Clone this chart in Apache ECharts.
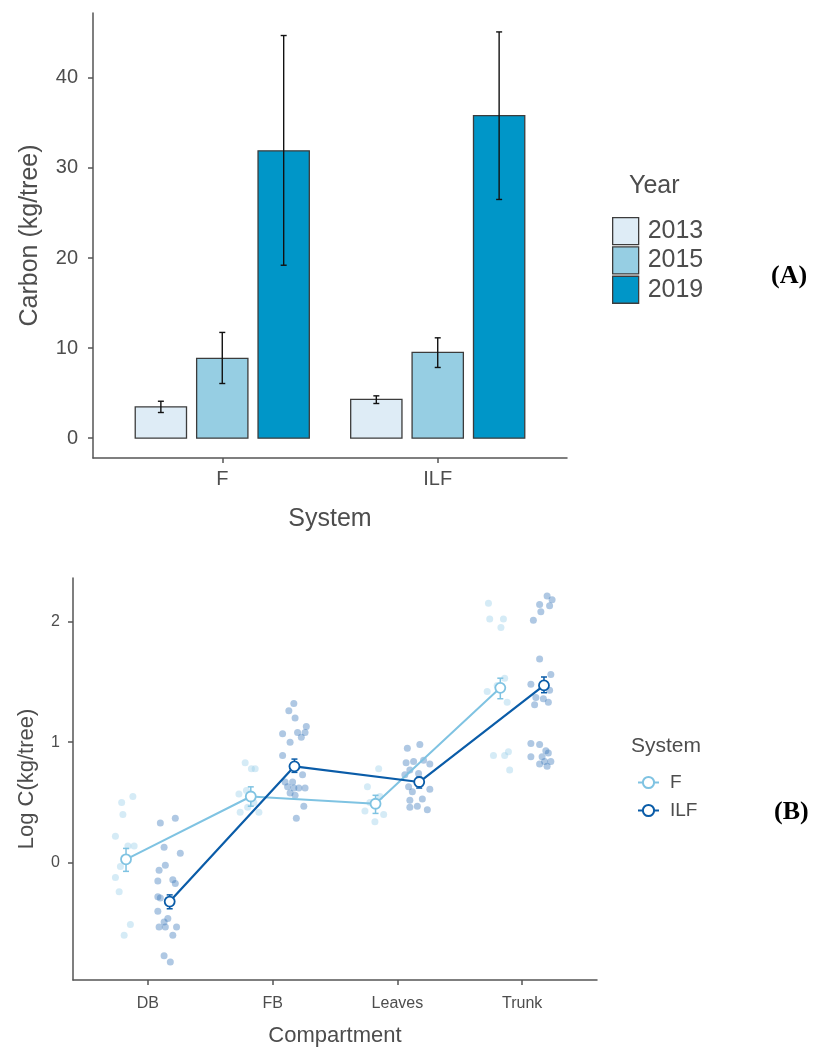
<!DOCTYPE html>
<html>
<head>
<meta charset="utf-8">
<script src="https://cdn.jsdelivr.net/npm/echarts@6/dist/echarts.min.js"></script>
<style>
html,body{margin:0;padding:0;background:#fff;}
#chart{width:814px;height:1048px;}
</style>
</head>
<body>
<div id="chart"></div>
<script>
// ---------- Panel A data ----------
const systemsA = ['F', 'ILF'];
const yearsA = ['2013', '2015', '2019'];
const mean2013 = [3.48, 4.30];
const lo2013 = [2.85, 3.85];
const hi2013 = [4.10, 4.70];
const mean2015 = [8.85, 9.52];
const lo2015 = [6.07, 7.85];
const hi2015 = [11.74, 11.14];
const mean2019 = [31.9, 35.8];
const lo2019 = [19.2, 26.5];
const hi2019 = [44.7, 45.1];
const ticksA = [0, 10, 20, 30, 40];

// ---------- Panel B data ----------
const compartments = ['DB', 'FB', 'Leaves', 'Trunk'];
const systemsB = ['F', 'ILF'];
const meanF = [0.03, 0.55, 0.49, 1.45];
const loF = [-0.07, 0.47, 0.41, 1.36];
const hiF = [0.12, 0.63, 0.56, 1.53];
const meanILF = [-0.32, 0.80, 0.67, 1.47];
const loILF = [-0.38, 0.75, 0.62, 1.41];
const hiILF = [-0.265, 0.86, 0.71, 1.54];
const ticksB = [0, 1, 2];
// jittered raw observations [position, log C]
const ptsF_DB = [[0.79,0.50],[0.88,0.55],[0.80,0.40],[0.74,0.22],[0.84,0.14],[0.89,0.14],[0.78,-0.03],[0.74,-0.12],[0.77,-0.24],[0.86,-0.51],[0.81,-0.60]];
const ptsF_FB = [[1.78,0.83],[1.83,0.78],[1.86,0.78],[1.73,0.57],[1.74,0.42],[1.80,0.46],[1.89,0.42],[1.85,0.50],[1.79,0.60]];
const ptsF_Leaves = [[2.85,0.78],[2.76,0.63],[2.74,0.43],[2.82,0.34],[2.89,0.40],[2.78,0.50],[2.86,0.55]];
const ptsF_Trunk = [[3.73,2.15],[3.74,2.02],[3.85,2.02],[3.83,1.95],[3.86,1.53],[3.72,1.42],[3.88,1.33],[3.80,1.47],[3.77,0.89],[3.86,0.89],[3.89,0.92],[3.90,0.77]];
const ptsILF_DB = [[1.10,0.33],[1.22,0.37],[1.13,0.13],[1.26,0.08],[1.14,-0.02],[1.09,-0.06],[1.08,-0.15],[1.20,-0.14],[1.22,-0.17],[1.08,-0.28],[1.10,-0.29],[1.08,-0.40],[1.16,-0.46],[1.13,-0.49],[1.09,-0.53],[1.14,-0.53],[1.23,-0.53],[1.20,-0.60],[1.13,-0.77],[1.18,-0.82]];
const ptsILF_FB = [[2.17,1.32],[2.13,1.26],[2.18,1.20],[2.27,1.13],[2.20,1.08],[2.26,1.08],[2.23,1.04],[2.08,1.07],[2.14,1.00],[2.08,0.89],[2.24,0.73],[2.10,0.67],[2.16,0.67],[2.12,0.63],[2.17,0.62],[2.21,0.62],[2.26,0.62],[2.14,0.58],[2.18,0.56],[2.25,0.47],[2.19,0.37]];
const ptsILF_Leaves = [[3.08,0.95],[3.18,0.98],[3.07,0.83],[3.13,0.84],[3.21,0.85],[3.26,0.82],[3.10,0.77],[3.06,0.73],[3.17,0.74],[3.09,0.63],[3.12,0.59],[3.26,0.61],[3.10,0.52],[3.20,0.53],[3.10,0.46],[3.16,0.47],[3.24,0.44]];
const ptsILF_Trunk = [[4.20,2.21],[4.24,2.18],[4.14,2.14],[4.22,2.13],[4.15,2.08],[4.09,2.01],[4.14,1.69],[4.23,1.56],[4.07,1.48],[4.22,1.43],[4.11,1.37],[4.17,1.36],[4.21,1.33],[4.10,1.31],[4.07,0.99],[4.14,0.98],[4.19,0.93],[4.21,0.91],[4.07,0.88],[4.16,0.88],[4.14,0.82],[4.18,0.84],[4.23,0.84],[4.20,0.80]];

// ---------- styling ----------
const barColors = ['#deecf6', '#96cee3', '#0096c8'];
const barOffsets = [-0.285, 0, 0.285];
const barW = 0.238;
const lineColors = ['#7fc3e2', '#0a5ca8'];
const ptColors = ['rgba(150,205,233,0.5)', 'rgba(55,118,185,0.5)'];
const dodgeB = [-0.175, 0.175];
const axisCol = '#555555';
const txtCol = '#4d4d4d';
const font = 'Liberation Sans, Arial, sans-serif';

const chart = echarts.init(document.getElementById('chart'), null, {renderer: 'canvas'});

const meansA = [mean2013, mean2015, mean2019];
const losA = [lo2013, lo2015, lo2019];
const hisA = [hi2013, hi2015, hi2019];

const series = [];
yearsA.forEach((yr, k) => {
  series.push({
    name: yr, type: 'custom', xAxisIndex: 0, yAxisIndex: 0,
    itemStyle: {color: barColors[k], borderColor: '#3c3c3c', borderWidth: 1.3},
    data: systemsA.map((s, i) => [i + 1, meansA[k][i]]),
    renderItem: (params, api) => {
      const x = api.value(0) + barOffsets[k];
      const p0 = api.coord([x - barW / 2, api.value(1)]);
      const p1 = api.coord([x + barW / 2, 0]);
      return {type: 'rect', shape: {x: p0[0], y: p0[1], width: p1[0] - p0[0], height: p1[1] - p0[1]},
        style: {fill: barColors[k], stroke: '#3c3c3c', lineWidth: 1.3}};
    }
  });
});
yearsA.forEach((yr, k) => {
  series.push({
    name: 'err' + yr, type: 'custom', xAxisIndex: 0, yAxisIndex: 0, z: 5,
    data: systemsA.map((s, i) => [i + 1, losA[k][i], hisA[k][i]]),
    renderItem: (params, api) => {
      const x = api.value(0) + barOffsets[k];
      const a = api.coord([x, api.value(1)]);
      const b = api.coord([x, api.value(2)]);
      const cw = 3;
      const st = {stroke: '#111', lineWidth: 1.4};
      return {type: 'group', children: [
        {type: 'line', shape: {x1: a[0], y1: a[1], x2: b[0], y2: b[1]}, style: st},
        {type: 'line', shape: {x1: a[0] - cw, y1: a[1], x2: a[0] + cw, y2: a[1]}, style: st},
        {type: 'line', shape: {x1: b[0] - cw, y1: b[1], x2: b[0] + cw, y2: b[1]}, style: st}
      ]};
    }
  });
});

// Panel B
const ptsF = [].concat(ptsF_DB, ptsF_FB, ptsF_Leaves, ptsF_Trunk);
const ptsILF = [].concat(ptsILF_DB, ptsILF_FB, ptsILF_Leaves, ptsILF_Trunk);
[ptsF, ptsILF].forEach((pts, j) => {
  series.push({
    name: 'pts' + systemsB[j], type: 'scatter', xAxisIndex: 1, yAxisIndex: 1,
    symbolSize: 7, itemStyle: {color: ptColors[j]}, data: pts, z: 2
  });
});
const meansB = [meanF, meanILF], losB = [loF, loILF], hisB = [hiF, hiILF];
systemsB.forEach((s, j) => {
  series.push({
    name: 'eb' + s, type: 'custom', xAxisIndex: 1, yAxisIndex: 1, z: 3,
    data: compartments.map((c, i) => [i + 1, losB[j][i], hisB[j][i]]),
    renderItem: (params, api) => {
      const x = api.value(0) + dodgeB[j];
      const a = api.coord([x, api.value(1)]);
      const b = api.coord([x, api.value(2)]);
      const cw = 3;
      const st = {stroke: lineColors[j], lineWidth: 1.5};
      return {type: 'group', children: [
        {type: 'line', shape: {x1: a[0], y1: a[1], x2: b[0], y2: b[1]}, style: st},
        {type: 'line', shape: {x1: a[0] - cw, y1: a[1], x2: a[0] + cw, y2: a[1]}, style: st},
        {type: 'line', shape: {x1: b[0] - cw, y1: b[1], x2: b[0] + cw, y2: b[1]}, style: st}
      ]};
    }
  });
});
systemsB.forEach((s, j) => {
  series.push({
    name: s, type: 'line', xAxisIndex: 1, yAxisIndex: 1, z: 4,
    data: compartments.map((c, i) => [i + 1 + dodgeB[j], meansB[j][i]]),
    symbol: 'circle', symbolSize: 10,
    lineStyle: {color: lineColors[j], width: j === 0 ? 2 : 2.2},
    itemStyle: {color: '#ffffff', borderColor: lineColors[j], borderWidth: 1.8},
    emphasis: {disabled: true}
  });
});

const option = {
  animation: false,
  backgroundColor: '#ffffff',
  textStyle: {fontFamily: font},
  grid: [
    {left: 93, top: 13, width: 474, height: 445},
    {left: 73, top: 578, width: 524, height: 402}
  ],
  xAxis: [
    {gridIndex: 0, type: 'value', min: 0.4, max: 2.6,
      name: 'System', nameLocation: 'middle', nameGap: 49,
      nameTextStyle: {fontSize: 25, color: txtCol, fontFamily: font},
      axisLine: {show: true, onZero: false, lineStyle: {color: axisCol, width: 1.5}},
      axisTick: {show: true, length: 5, customValues: [1, 2], lineStyle: {color: axisCol, width: 1.5}},
      axisLabel: {customValues: [1, 2], formatter: v => systemsA[Math.round(v) - 1], fontSize: 20, color: txtCol, margin: 11},
      splitLine: {show: false}},
    {gridIndex: 1, type: 'value', min: 0.4, max: 4.6,
      name: 'Compartment', nameLocation: 'middle', nameGap: 45,
      nameTextStyle: {fontSize: 22, color: txtCol, fontFamily: font},
      axisLine: {show: true, onZero: false, lineStyle: {color: axisCol, width: 1.5}},
      axisTick: {show: true, length: 5, customValues: [1, 2, 3, 4], lineStyle: {color: axisCol, width: 1.5}},
      axisLabel: {customValues: [1, 2, 3, 4], formatter: v => compartments[Math.round(v) - 1], fontSize: 16, color: txtCol, margin: 16},
      splitLine: {show: false}}
  ],
  yAxis: [
    {gridIndex: 0, type: 'value', min: -2.2, max: 47.2,
      name: 'Carbon (kg/tree)', nameLocation: 'middle', nameGap: 50,
      nameTextStyle: {fontSize: 25, color: txtCol, fontFamily: font},
      axisLine: {show: true, onZero: false, lineStyle: {color: axisCol, width: 1.5}},
      axisTick: {show: true, length: 5, customValues: ticksA, lineStyle: {color: axisCol, width: 1.5}},
      axisLabel: {customValues: ticksA, fontSize: 20, color: txtCol, margin: 15},
      splitLine: {show: false}},
    {gridIndex: 1, type: 'value', min: -0.97, max: 2.36,
      name: 'Log C(kg/tree)', nameLocation: 'middle', nameGap: 35,
      nameTextStyle: {fontSize: 22, color: txtCol, fontFamily: font},
      axisLine: {show: true, onZero: false, lineStyle: {color: axisCol, width: 1.5}},
      axisTick: {show: true, length: 5, customValues: ticksB, lineStyle: {color: axisCol, width: 1.5}},
      axisLabel: {customValues: ticksB, fontSize: 16, color: txtCol, margin: 13},
      splitLine: {show: false}}
  ],
  legend: [
    {orient: 'vertical', left: 607, top: 212, itemWidth: 26, itemHeight: 27, itemGap: 1,
      icon: 'rect', selectedMode: false,
      textStyle: {fontSize: 25, color: txtCol, fontFamily: font, padding: [0, 0, 0, 4]},
      data: yearsA.map((y, k) => ({name: y, itemStyle: {color: barColors[k], borderColor: '#3c3c3c', borderWidth: 1.3}}))},
    {orient: 'vertical', left: 632, top: 768, itemWidth: 21, itemHeight: 14, itemGap: 9,
      selectedMode: false,
      textStyle: {fontSize: 19, color: txtCol, fontFamily: font, padding: [0, 0, 0, 6]},
      data: systemsB}
  ],
  graphic: [
    {type: 'text', left: 629, top: 174, style: {text: 'Year', fontSize: 25, fill: txtCol, fontFamily: font}},
    {type: 'text', left: 631, top: 736, style: {text: 'System', fontSize: 21, fill: txtCol, fontFamily: font}},
    {type: 'text', left: 771, top: 263, style: {text: '(A)', fontSize: 26, fontWeight: 'bold', fill: '#000', fontFamily: 'Liberation Serif, DejaVu Serif, serif'}},
    {type: 'text', left: 774, top: 799, style: {text: '(B)', fontSize: 26, fontWeight: 'bold', fill: '#000', fontFamily: 'Liberation Serif, DejaVu Serif, serif'}}
  ],
  series: series
};
chart.setOption(option);
</script>
</body>
</html>
